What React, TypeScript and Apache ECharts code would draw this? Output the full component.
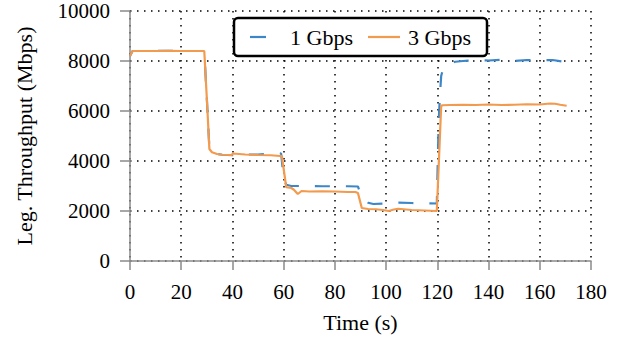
import React, { useEffect, useRef } from "react";
import * as echarts from "echarts";

const xTicks = [0, 20, 40, 60, 80, 100, 120, 140, 160, 180];
const yTicks = [0, 2000, 4000, 6000, 8000, 10000];

const seriesNames = ["1 Gbps", "3 Gbps"];

const timeBlue = [
  0, 1, 5, 10, 15, 20, 25, 29, 30, 31, 32, 34, 36, 40, 41, 45, 50, 55, 58, 59,
  60, 61, 63, 70, 75, 80, 85, 89, 90, 91, 92, 93, 95, 100, 104, 110, 115, 119.8,
  120.5, 121, 121.5, 122, 123, 124, 125, 127, 130, 135, 140, 145, 150, 155, 160, 165, 170.5,
];
const valBlue = [
  8200, 8400, 8400, 8400, 8410, 8400, 8400, 8400, 6500, 4500, 4350, 4280, 4250, 4230, 4270, 4260, 4260, 4300, 4320, 4300,
  3300, 3050, 3000, 3000, 2990, 2990, 2990, 2980, 2700, 2550, 2450, 2330, 2280, 2300, 2340, 2320, 2310, 2300,
  5500, 6600, 7400, 7600, 7750, 7850, 7900, 7970, 8000, 8030, 8020, 8050, 8000, 8040, 8030, 8040, 7950,
];

const timeOrange = [
  0, 1, 5, 10, 15, 20, 25, 29, 30, 31, 32, 34, 36, 39.7, 40.2, 45, 50, 55, 58.6, 59.3,
  61, 63, 64, 65.5, 67, 70, 75, 80, 85, 88, 89, 90.5, 93, 96, 98.8, 101, 103, 104.7, 110, 115, 119.8,
  121.5, 122, 125, 130, 135, 140, 145, 150, 155, 160, 164, 166, 168, 170.5,
];
const valOrange = [
  8200, 8400, 8400, 8400, 8410, 8400, 8400, 8400, 6500, 4480, 4350, 4280, 4250, 4240, 4300, 4260, 4240, 4230, 4200, 4200,
  2950, 2920, 2850, 2680, 2800, 2780, 2790, 2780, 2760, 2760, 2720, 2120, 2080, 2070, 2040, 2000, 2060, 2090, 2040, 2020, 2000,
  6200, 6230, 6240, 6250, 6240, 6260, 6240, 6250, 6270, 6260, 6300, 6290, 6250, 6210,
];

const blueColor = "#3d87c8";
const orangeColor = "#f29a4e";
const font = "'Liberation Serif', serif";

export default function App() {
  const ref = useRef<HTMLDivElement>(null);
  useEffect(() => {
    if (!ref.current) return;
    const chart = echarts.init(ref.current, null, { renderer: "svg" });
    const gridLine = { show: true, lineStyle: { color: "#000", width: 1.5, type: [1.5, 5.5] as any } };
    const axisLine = { show: true, lineStyle: { color: "#8a8a8a", width: 1.5 } };
    const plain = (v: number) => String(v);
    chart.setOption({
      animation: false,
      backgroundColor: "#fff",
      textStyle: { fontFamily: font, color: "#000" },
      grid: { left: 130, right: 27, top: 11, bottom: 78 },
      xAxis: {
        type: "value",
        min: xTicks[0],
        max: xTicks[xTicks.length - 1],
        interval: 20,
        name: "Time (s)",
        nameLocation: "middle",
        nameGap: 50,
        nameTextStyle: { fontFamily: font, fontSize: 22, color: "#000" },
        axisLine,
        axisTick: { show: true, inside: false, length: 9, lineStyle: { color: "#8a8a8a", width: 1.5 } },
        axisLabel: { fontFamily: font, fontSize: 21, color: "#000", margin: 20, formatter: plain },
        splitLine: gridLine,
      },
      yAxis: {
        type: "value",
        min: yTicks[0],
        max: yTicks[yTicks.length - 1],
        interval: 2000,
        name: "Leg. Throughput (Mbps)",
        nameLocation: "middle",
        nameGap: 95,
        nameTextStyle: { fontFamily: font, fontSize: 22, color: "#000" },
        axisLine,
        axisTick: { show: true, inside: false, length: 10, lineStyle: { color: "#8a8a8a", width: 1.5 } },
        axisLabel: { fontFamily: font, fontSize: 21, color: "#000", margin: 20, formatter: plain },
        splitLine: gridLine,
      },
      series: [
        {
          name: seriesNames[0],
          type: "line",
          showSymbol: false,
          data: timeBlue.map((t, i) => [t, valBlue[i]]),
          lineStyle: { color: blueColor, width: 2.2, type: [15, 16] as any },
          z: 3,
        },
        {
          name: seriesNames[1],
          type: "line",
          showSymbol: false,
          data: timeOrange.map((t, i) => [t, valOrange[i]]),
          lineStyle: { color: orangeColor, width: 2.2 },
          z: 4,
        },
      ],
      graphic: [
        {
          type: "rect",
          z: 100,
          shape: { x: 234, y: 18, width: 253, height: 38, r: 4 },
          style: { fill: "#fff", stroke: "#000", lineWidth: 2.5 },
        },
        {
          type: "line",
          z: 101,
          shape: { x1: 250, y1: 37, x2: 266, y2: 37 },
          style: { stroke: blueColor, lineWidth: 2.2 },
        },
        {
          type: "text",
          z: 101,
          x: 290,
          y: 37,
          style: { text: seriesNames[0], fontFamily: font, fontSize: 22, fill: "#000", verticalAlign: "middle", align: "left" },
        },
        {
          type: "line",
          z: 101,
          shape: { x1: 368, y1: 37, x2: 400, y2: 37 },
          style: { stroke: orangeColor, lineWidth: 2.2 },
        },
        {
          type: "text",
          z: 101,
          x: 408,
          y: 37,
          style: { text: seriesNames[1], fontFamily: font, fontSize: 22, fill: "#000", verticalAlign: "middle", align: "left" },
        },
      ],
    });
    return () => chart.dispose();
  }, []);
  return <div ref={ref} style={{ position: "fixed", left: 0, top: 0, width: 618, height: 339 }} />;
}
